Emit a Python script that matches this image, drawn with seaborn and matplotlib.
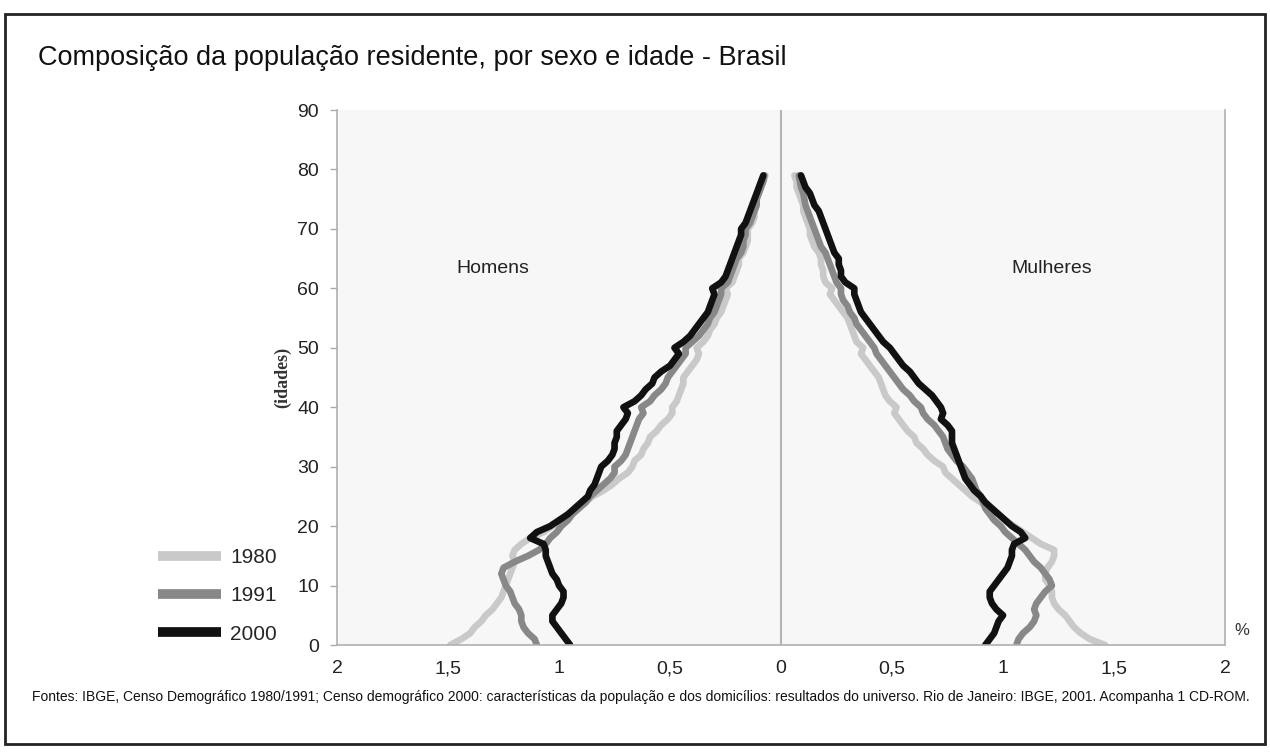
import matplotlib
matplotlib.use("Agg")
import matplotlib.pyplot as plt
import seaborn as sns
import numpy as np
from matplotlib.lines import Line2D
from matplotlib.patches import Rectangle

# idades simples, 0 a 79 anos
ages = list(range(80))

# % da populacao, homens (lado esquerdo)
homens_1980 = [1.49, 1.44, 1.40, 1.38, 1.35, 1.33, 1.30, 1.28, 1.26, 1.25,
               1.24, 1.23, 1.22, 1.21, 1.20, 1.21, 1.20, 1.17, 1.13, 1.07,
               1.03, 0.99, 0.96, 0.92, 0.88, 0.85, 0.80, 0.76, 0.73, 0.69,
               0.67, 0.66, 0.63, 0.62, 0.60, 0.59, 0.56, 0.54, 0.51, 0.49,
               0.49, 0.47, 0.46, 0.45, 0.44, 0.44, 0.42, 0.40, 0.38, 0.37,
               0.38, 0.35, 0.33, 0.32, 0.30, 0.29, 0.27, 0.26, 0.25, 0.24,
               0.25, 0.22, 0.21, 0.20, 0.19, 0.19, 0.17, 0.16, 0.15, 0.15,
               0.15, 0.13, 0.12, 0.12, 0.11, 0.11, 0.10, 0.09, 0.08, 0.07]
homens_1991 = [1.10, 1.11, 1.14, 1.16, 1.17, 1.17, 1.18, 1.20, 1.21, 1.22,
               1.24, 1.25, 1.26, 1.25, 1.20, 1.14, 1.09, 1.06, 1.04, 1.01,
               0.99, 0.96, 0.94, 0.91, 0.88, 0.86, 0.83, 0.80, 0.77, 0.75,
               0.75, 0.72, 0.70, 0.69, 0.68, 0.67, 0.66, 0.65, 0.64, 0.62,
               0.63, 0.59, 0.57, 0.54, 0.52, 0.51, 0.49, 0.47, 0.45, 0.43,
               0.43, 0.40, 0.37, 0.35, 0.33, 0.32, 0.30, 0.29, 0.28, 0.27,
               0.27, 0.24, 0.23, 0.22, 0.21, 0.20, 0.18, 0.17, 0.17, 0.16,
               0.16, 0.14, 0.13, 0.12, 0.11, 0.11, 0.10, 0.09, 0.08, 0.075]
homens_2000 = [0.95, 0.97, 0.99, 1.01, 1.03, 1.03, 1.01, 0.99, 0.98, 0.98,
               1.00, 1.01, 1.03, 1.04, 1.05, 1.06, 1.06, 1.07, 1.13, 1.10,
               1.04, 1.00, 0.96, 0.93, 0.90, 0.87, 0.86, 0.84, 0.83, 0.82,
               0.81, 0.78, 0.76, 0.75, 0.75, 0.74, 0.74, 0.72, 0.70, 0.69,
               0.71, 0.66, 0.63, 0.61, 0.58, 0.57, 0.54, 0.50, 0.48, 0.46,
               0.48, 0.44, 0.41, 0.39, 0.37, 0.35, 0.33, 0.32, 0.31, 0.30,
               0.31, 0.27, 0.25, 0.24, 0.23, 0.22, 0.21, 0.20, 0.19, 0.18,
               0.18, 0.16, 0.15, 0.14, 0.13, 0.12, 0.11, 0.10, 0.09, 0.08]

# % da populacao, mulheres (lado direito)
mulheres_1980 = [1.46, 1.39, 1.35, 1.32, 1.30, 1.28, 1.25, 1.23, 1.22, 1.22,
                 1.21, 1.19, 1.19, 1.20, 1.22, 1.23, 1.23, 1.17, 1.13, 1.09,
                 1.05, 1.01, 0.98, 0.94, 0.90, 0.86, 0.83, 0.80, 0.77, 0.74,
                 0.73, 0.69, 0.66, 0.64, 0.61, 0.60, 0.57, 0.55, 0.53, 0.51,
                 0.52, 0.49, 0.47, 0.46, 0.45, 0.44, 0.42, 0.40, 0.38, 0.36,
                 0.37, 0.34, 0.33, 0.32, 0.31, 0.30, 0.28, 0.26, 0.24, 0.22,
                 0.23, 0.20, 0.19, 0.19, 0.18, 0.18, 0.17, 0.15, 0.14, 0.13,
                 0.13, 0.12, 0.11, 0.10, 0.10, 0.09, 0.08, 0.07, 0.07, 0.06]
mulheres_1991 = [1.06, 1.07, 1.09, 1.12, 1.14, 1.15, 1.14, 1.15, 1.17, 1.19,
                 1.22, 1.21, 1.19, 1.17, 1.14, 1.12, 1.10, 1.07, 1.04, 1.01,
                 0.99, 0.96, 0.94, 0.92, 0.91, 0.90, 0.88, 0.87, 0.86, 0.84,
                 0.82, 0.79, 0.77, 0.75, 0.74, 0.73, 0.71, 0.69, 0.66, 0.64,
                 0.63, 0.60, 0.58, 0.55, 0.53, 0.51, 0.49, 0.47, 0.45, 0.43,
                 0.42, 0.40, 0.38, 0.36, 0.34, 0.33, 0.31, 0.30, 0.28, 0.27,
                 0.27, 0.25, 0.24, 0.23, 0.22, 0.21, 0.20, 0.18, 0.17, 0.16,
                 0.15, 0.14, 0.13, 0.12, 0.11, 0.105, 0.10, 0.09, 0.085, 0.08]
mulheres_2000 = [0.92, 0.94, 0.96, 0.97, 0.98, 1.00, 0.97, 0.95, 0.94, 0.94,
                 0.96, 0.98, 1.00, 1.02, 1.03, 1.04, 1.04, 1.05, 1.10, 1.08,
                 1.04, 1.01, 0.98, 0.95, 0.92, 0.90, 0.87, 0.85, 0.83, 0.82,
                 0.81, 0.80, 0.79, 0.78, 0.77, 0.77, 0.77, 0.75, 0.72, 0.73,
                 0.72, 0.70, 0.68, 0.65, 0.62, 0.60, 0.58, 0.55, 0.53, 0.51,
                 0.49, 0.46, 0.44, 0.42, 0.40, 0.38, 0.36, 0.35, 0.34, 0.33,
                 0.33, 0.29, 0.27, 0.27, 0.26, 0.26, 0.24, 0.23, 0.22, 0.21,
                 0.20, 0.19, 0.18, 0.17, 0.15, 0.14, 0.13, 0.11, 0.10, 0.09]

anos = ["1980", "1991", "2000"]
cores = ["#c9c9c9", "#888888", "#111111"]

xticks = [-2, -1.5, -1, -0.5, 0, 0.5, 1, 1.5, 2]
xtick_labels = ["2", "1,5", "1", "0,5", "0", "0,5", "1", "1,5", "2"]
yticks = list(range(0, 91, 10))

sns.set_theme(style="white")
fonte = ["Liberation Sans", "DejaVu Sans"]
plt.rcParams["font.family"] = fonte

fig = plt.figure(figsize=(12.7, 7.53), dpi=100)
ax = fig.add_axes([0.2654, 0.1434, 0.6992, 0.7105])
ax.set_facecolor("#f7f7f7")

series = {"1980": (homens_1980, mulheres_1980),
          "1991": (homens_1991, mulheres_1991),
          "2000": (homens_2000, mulheres_2000)}

for ano, cor in zip(anos, cores):
    h, m = series[ano]
    for vals in (-np.array(h), np.array(m)):
        sns.lineplot(x=vals, y=ages, sort=False, orient="y", estimator=None,
                     color=cor, lw=4.8, ax=ax, legend=False,
                     solid_joinstyle="round", solid_capstyle="round")

ax.axvline(0, color="#b5b5b5", lw=1.5, zorder=0)

ax.set_xlim(-2, 2)
ax.set_ylim(0, 90)
ax.set_xticks(xticks)
ax.set_xticklabels(xtick_labels)
ax.set_yticks(yticks)
ax.set_xlabel("")
ax.set_ylabel("(idades)", fontsize=13, fontweight="bold", family="Liberation Serif",
              color="#333333", labelpad=4)
ax.tick_params(axis="x", direction="in", length=6, width=1, color="#aaaaaa",
               labelsize=14, labelcolor="#222222", pad=11)
ax.tick_params(axis="y", direction="out", length=5, width=1, color="#aaaaaa",
               labelsize=14, labelcolor="#222222", pad=8, left=True)
for side in ["left", "bottom", "right"]:
    ax.spines[side].set_color("#b0b0b0")
    ax.spines[side].set_linewidth(1.2)
ax.spines["top"].set_visible(False)

ax.text(-1.30, 63.4, "Homens", ha="center", va="center", fontsize=14, color="#222222")
ax.text(1.22, 63.4, "Mulheres", ha="center", va="center", fontsize=14, color="#222222")
ax.text(2.04, 2.5, "%", ha="left", va="center", fontsize=12, color="#333333")

handles = [Line2D([0], [0], color=c, lw=7, solid_capstyle="butt") for c in cores]
fig.legend(handles, anos, loc="upper left", bbox_to_anchor=(0.118, 0.283),
           frameon=False, fontsize=15, handlelength=3.0, handletextpad=0.45,
           labelspacing=0.92, borderaxespad=0)

fig.text(0.030, 0.923, "Composição da população residente, por sexo e idade - Brasil",
         fontsize=19.5, ha="left", va="center", color="#111111")
fig.text(0.025, 0.074,
         "Fontes: IBGE, Censo Demográfico 1980/1991; Censo demográfico 2000: características da "
         "população e dos domicílios: resultados do universo. Rio de Janeiro: IBGE, 2001. "
         "Acompanha 1 CD-ROM.",
         fontsize=10, ha="left", va="center", color="#111111")

fig.patches.append(Rectangle((0.004, 0.012), 0.992, 0.97, transform=fig.transFigure,
                             fill=False, edgecolor="#222222", lw=2))

fig.savefig("out.png", dpi=100, facecolor="white")
